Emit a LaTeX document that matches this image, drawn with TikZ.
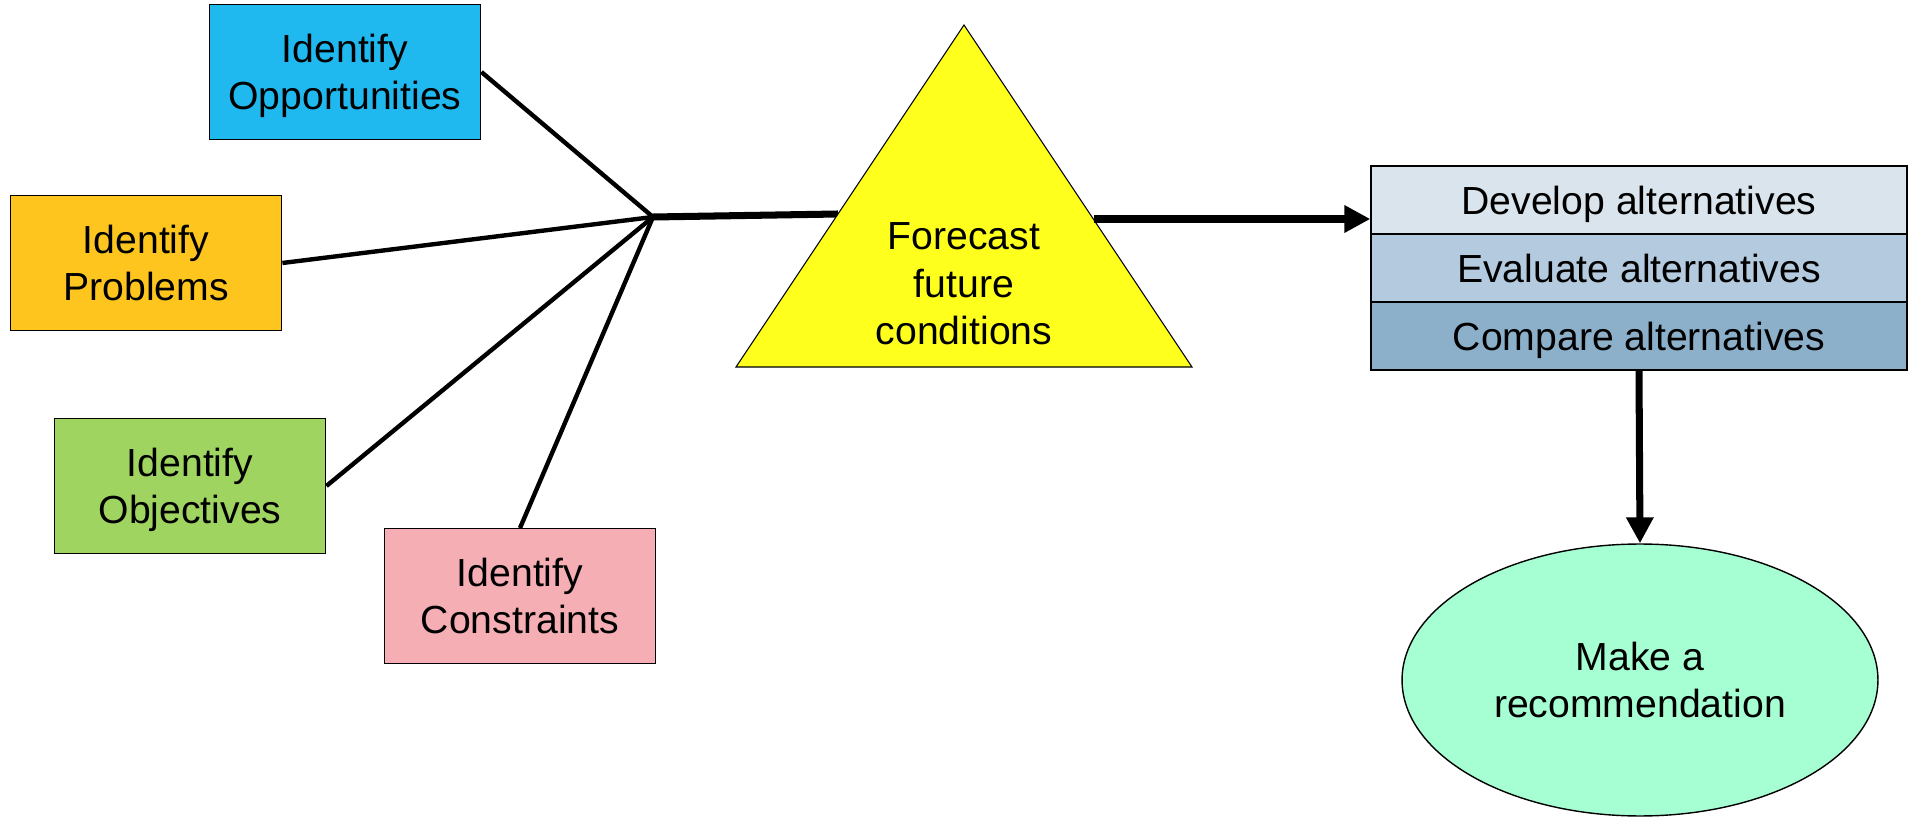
\documentclass[tikz,border=0pt]{standalone}
\usepackage{fontspec}
\setmainfont{Liberation Sans}
\usetikzlibrary{shapes.geometric, arrows.meta}
\usetikzlibrary{positioning, shapes}
\definecolor{oppblue}{RGB}{31,185,240}
\definecolor{probyellow}{RGB}{253,197,30}
\definecolor{objgreen}{RGB}{160,212,96}
\definecolor{conspink}{RGB}{244,174,180}
\definecolor{fcyellow}{RGB}{255,255,30}
\definecolor{devblue}{RGB}{218,228,236}
\definecolor{evalblue}{RGB}{180,202,222}
\definecolor{cmpblue}{RGB}{140,176,202}
\definecolor{recmint}{RGB}{166,255,210}
\tikzstyle{arrow} = [line width=4pt,-{Triangle[length=0.52cm,width=0.52cm]}]
\tikzstyle{connect} = [line width=2.5pt,-]
\tikzstyle{trunk} = [line width=4pt,-]
\tikzstyle{identify} = [rectangle, minimum width=5.43cm, minimum height=2.69cm, inner sep=0pt, text depth=0pt, text centered, align=center, draw=black, line width=0.8pt]
\tikzstyle{stage} = [rectangle, minimum width=10.72cm, minimum height=1.36cm, inner sep=0pt, text depth=0pt, text centered, draw=black, line width=0.8pt]
\tikzstyle{outcome} = [ellipse, minimum width=9.52cm, minimum height=5.44cm, inner sep=0pt, align=center, draw=black, line width=0.8pt, fill=recmint]
\tikzstyle{forecast} = [draw=black, line width=0.6pt, fill=fcyellow]

\begin{document}
\begin{tikzpicture}[x=0.02cm, y=-0.02cm, node distance=1.36cm, font=\fontsize{22.3pt}{27pt}\selectfont]
            \useasboundingbox (0,0) rectangle (1911,817);

            \node (opp) [identify, fill=oppblue] at (345,72) {Identify\\Opportunities};
            \node (prob) [identify, fill=probyellow] at (146,263) {Identify\\Problems};
            \node (obj) [identify, fill=objgreen] at (190,486) {Identify\\Objectives};
            \node (cons) [identify, fill=conspink] at (520,596) {Identify\\Constraints};

            \coordinate (hub) at (653,217);
            \coordinate (fcL) at (838,214);
            \coordinate (fcR) at (1094,219);

            \draw [connect] (opp.east) -- (hub);
            \draw [connect] (prob.east) -- (hub);
            \draw [connect] (obj.east) -- (hub);
            \draw [connect] (cons.north) -- (hub);
            \draw [trunk] (hub) -- (fcL);

            \coordinate (apex) at (964,25);
            \coordinate (bl) at (736,367);
            \coordinate (br) at (1192,367);
            \draw [forecast] (apex) -- (br) -- (bl) -- cycle;
            \node (fc) [align=center] at (964,284) {Forecast\\future\\conditions};

            \node (dev) [stage, fill=devblue] at (1639,200) {Develop alternatives};
            \node (eval) [stage, fill=evalblue, below of=dev] {Evaluate alternatives};
            \node (cmp) [stage, fill=cmpblue, below of=eval] {Compare alternatives};
            \node (rec) [outcome] at (1640,680) {Make a\\recommendation};

            \draw [arrow] (fcR) -- (fcR -| dev.west);
            \draw [arrow] (cmp.south) -- (rec.north);

        \end{tikzpicture}
\end{document}
